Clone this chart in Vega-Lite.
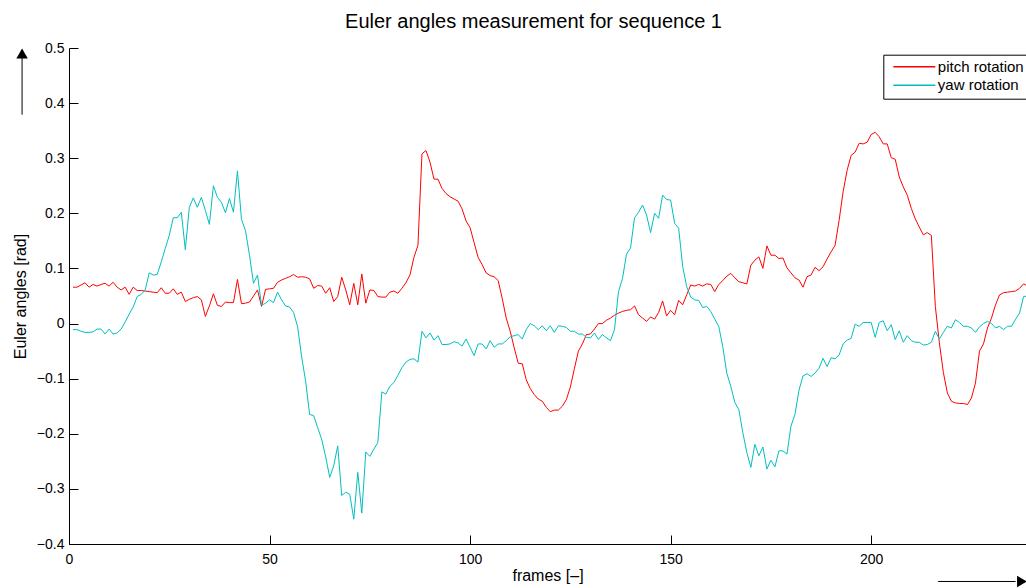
{
"$schema":"https://vega.github.io/schema/vega-lite/v6.json",
"width":957,"height":496,
"autosize":{"type":"none"},
"padding":{"left":69,"top":48,"right":0,"bottom":44},
"background":"white",
"title":{"text":"Euler angles measurement for sequence 1","fontSize":20,"fontWeight":"normal","font":"Liberation Sans","color":"black","frame":"group","anchor":"middle","offset":-7,"dx":-14,"baseline":"alphabetic"},
"config":{"font":"Liberation Sans","view":{"stroke":null},
"axis":{"domainColor":"black","tickColor":"black","tickSize":-9,"domainWidth":1,"tickWidth":1,"grid":false,"labelFlush":false,"labelFontSize":14,"labelColor":"black","labelFont":"Liberation Sans","titleFont":"Liberation Sans","titleFontSize":16,"titleFontWeight":"normal","titleColor":"black"}},
"datasets":{"euler":[
{"frame":1,"pitch":0.066,"yaw":-0.011},{"frame":2,"pitch":0.066,"yaw":-0.011},{"frame":3,"pitch":0.070,"yaw":-0.014},{"frame":4,"pitch":0.074,"yaw":-0.016},{"frame":5,"pitch":0.066,"yaw":-0.016},{"frame":6,"pitch":0.071,"yaw":-0.015},{"frame":7,"pitch":0.068,"yaw":-0.010},{"frame":8,"pitch":0.071,"yaw":-0.010},{"frame":9,"pitch":0.073,"yaw":-0.019},{"frame":10,"pitch":0.068,"yaw":-0.010},
{"frame":11,"pitch":0.075,"yaw":-0.019},{"frame":12,"pitch":0.066,"yaw":-0.017},{"frame":13,"pitch":0.061,"yaw":-0.010},{"frame":14,"pitch":0.066,"yaw":0.003},{"frame":15,"pitch":0.053,"yaw":0.017},{"frame":16,"pitch":0.066,"yaw":0.030},{"frame":17,"pitch":0.060,"yaw":0.049},{"frame":18,"pitch":0.060,"yaw":0.053},{"frame":19,"pitch":0.059,"yaw":0.061},{"frame":20,"pitch":0.058,"yaw":0.092},
{"frame":21,"pitch":0.057,"yaw":0.088},{"frame":22,"pitch":0.056,"yaw":0.089},{"frame":23,"pitch":0.065,"yaw":0.112},{"frame":24,"pitch":0.055,"yaw":0.136},{"frame":25,"pitch":0.055,"yaw":0.160},{"frame":26,"pitch":0.063,"yaw":0.192},{"frame":27,"pitch":0.053,"yaw":0.192},{"frame":28,"pitch":0.057,"yaw":0.202},{"frame":29,"pitch":0.040,"yaw":0.134},{"frame":30,"pitch":0.044,"yaw":0.211},
{"frame":31,"pitch":0.047,"yaw":0.228},{"frame":32,"pitch":0.049,"yaw":0.211},{"frame":33,"pitch":0.043,"yaw":0.229},{"frame":34,"pitch":0.013,"yaw":0.205},{"frame":35,"pitch":0.032,"yaw":0.180},{"frame":36,"pitch":0.054,"yaw":0.250},{"frame":37,"pitch":0.033,"yaw":0.229},{"frame":38,"pitch":0.031,"yaw":0.220},{"frame":39,"pitch":0.039,"yaw":0.201},{"frame":40,"pitch":0.038,"yaw":0.227},
{"frame":41,"pitch":0.038,"yaw":0.202},{"frame":42,"pitch":0.080,"yaw":0.277},{"frame":43,"pitch":0.036,"yaw":0.189},{"frame":44,"pitch":0.037,"yaw":0.169},{"frame":45,"pitch":0.039,"yaw":0.124},{"frame":46,"pitch":0.050,"yaw":0.073},{"frame":47,"pitch":0.061,"yaw":0.088},{"frame":48,"pitch":0.031,"yaw":0.033},{"frame":49,"pitch":0.062,"yaw":0.037},{"frame":50,"pitch":0.063,"yaw":0.043},
{"frame":51,"pitch":0.064,"yaw":0.038},{"frame":52,"pitch":0.075,"yaw":0.057},{"frame":53,"pitch":0.079,"yaw":0.043},{"frame":54,"pitch":0.082,"yaw":0.032},{"frame":55,"pitch":0.085,"yaw":0.030},{"frame":56,"pitch":0.089,"yaw":0.020},{"frame":57,"pitch":0.084,"yaw":-0.006},{"frame":58,"pitch":0.085,"yaw":-0.060},{"frame":59,"pitch":0.084,"yaw":-0.105},{"frame":60,"pitch":0.081,"yaw":-0.165},
{"frame":61,"pitch":0.064,"yaw":-0.167},{"frame":62,"pitch":0.069,"yaw":-0.189},{"frame":63,"pitch":0.068,"yaw":-0.210},{"frame":64,"pitch":0.055,"yaw":-0.242},{"frame":65,"pitch":0.065,"yaw":-0.279},{"frame":66,"pitch":0.040,"yaw":-0.258},{"frame":67,"pitch":0.049,"yaw":-0.222},{"frame":68,"pitch":0.084,"yaw":-0.312},{"frame":69,"pitch":0.061,"yaw":-0.306},{"frame":70,"pitch":0.034,"yaw":-0.310},
{"frame":71,"pitch":0.073,"yaw":-0.355},{"frame":72,"pitch":0.034,"yaw":-0.270},{"frame":73,"pitch":0.090,"yaw":-0.344},{"frame":74,"pitch":0.037,"yaw":-0.233},{"frame":75,"pitch":0.061,"yaw":-0.241},{"frame":76,"pitch":0.060,"yaw":-0.228},{"frame":77,"pitch":0.049,"yaw":-0.216},{"frame":78,"pitch":0.048,"yaw":-0.124},{"frame":79,"pitch":0.048,"yaw":-0.128},{"frame":80,"pitch":0.057,"yaw":-0.114},
{"frame":81,"pitch":0.059,"yaw":-0.107},{"frame":82,"pitch":0.055,"yaw":-0.094},{"frame":83,"pitch":0.064,"yaw":-0.080},{"frame":84,"pitch":0.074,"yaw":-0.070},{"frame":85,"pitch":0.088,"yaw":-0.065},{"frame":86,"pitch":0.120,"yaw":-0.064},{"frame":87,"pitch":0.142,"yaw":-0.070},{"frame":88,"pitch":0.308,"yaw":-0.014},{"frame":89,"pitch":0.314,"yaw":-0.026},{"frame":90,"pitch":0.293,"yaw":-0.017},
{"frame":91,"pitch":0.262,"yaw":-0.030},{"frame":92,"pitch":0.262,"yaw":-0.022},{"frame":93,"pitch":0.245,"yaw":-0.038},{"frame":94,"pitch":0.236,"yaw":-0.038},{"frame":95,"pitch":0.230,"yaw":-0.037},{"frame":96,"pitch":0.226,"yaw":-0.033},{"frame":97,"pitch":0.222,"yaw":-0.035},{"frame":98,"pitch":0.208,"yaw":-0.041},{"frame":99,"pitch":0.186,"yaw":-0.028},{"frame":100,"pitch":0.174,"yaw":-0.043},
{"frame":101,"pitch":0.147,"yaw":-0.058},{"frame":102,"pitch":0.120,"yaw":-0.037},{"frame":103,"pitch":0.107,"yaw":-0.037},{"frame":104,"pitch":0.092,"yaw":-0.046},{"frame":105,"pitch":0.087,"yaw":-0.031},{"frame":106,"pitch":0.085,"yaw":-0.043},{"frame":107,"pitch":0.078,"yaw":-0.037},{"frame":108,"pitch":0.046,"yaw":-0.037},{"frame":109,"pitch":0.010,"yaw":-0.031},{"frame":110,"pitch":-0.014,"yaw":-0.024},
{"frame":111,"pitch":-0.044,"yaw":-0.022},{"frame":112,"pitch":-0.072,"yaw":-0.020},{"frame":113,"pitch":-0.073,"yaw":-0.028},{"frame":114,"pitch":-0.102,"yaw":-0.011},{"frame":115,"pitch":-0.118,"yaw":0.000},{"frame":116,"pitch":-0.129,"yaw":-0.004},{"frame":117,"pitch":-0.137,"yaw":-0.011},{"frame":118,"pitch":-0.141,"yaw":-0.004},{"frame":119,"pitch":-0.152,"yaw":-0.013},{"frame":120,"pitch":-0.160,"yaw":-0.004},
{"frame":121,"pitch":-0.157,"yaw":-0.016},{"frame":122,"pitch":-0.157,"yaw":-0.004},{"frame":123,"pitch":-0.150,"yaw":-0.005},{"frame":124,"pitch":-0.138,"yaw":-0.007},{"frame":125,"pitch":-0.115,"yaw":-0.014},{"frame":126,"pitch":-0.082,"yaw":-0.014},{"frame":127,"pitch":-0.050,"yaw":-0.019},{"frame":128,"pitch":-0.037,"yaw":-0.019},{"frame":129,"pitch":-0.020,"yaw":-0.025},{"frame":130,"pitch":-0.019,"yaw":-0.026},
{"frame":131,"pitch":-0.010,"yaw":-0.017},{"frame":132,"pitch":0.000,"yaw":-0.029},{"frame":133,"pitch":0.000,"yaw":-0.020},{"frame":134,"pitch":0.006,"yaw":-0.026},{"frame":135,"pitch":0.010,"yaw":-0.031},{"frame":136,"pitch":0.015,"yaw":-0.011},{"frame":137,"pitch":0.019,"yaw":0.058},{"frame":138,"pitch":0.022,"yaw":0.082},{"frame":139,"pitch":0.024,"yaw":0.126},{"frame":140,"pitch":0.025,"yaw":0.137},
{"frame":141,"pitch":0.032,"yaw":0.192},{"frame":142,"pitch":0.016,"yaw":0.202},{"frame":143,"pitch":0.010,"yaw":0.215},{"frame":144,"pitch":0.004,"yaw":0.197},{"frame":145,"pitch":0.012,"yaw":0.165},{"frame":146,"pitch":0.008,"yaw":0.200},{"frame":147,"pitch":0.020,"yaw":0.191},{"frame":148,"pitch":0.041,"yaw":0.233},{"frame":149,"pitch":0.014,"yaw":0.225},{"frame":150,"pitch":0.024,"yaw":0.224},
{"frame":151,"pitch":0.016,"yaw":0.182},{"frame":152,"pitch":0.042,"yaw":0.173},{"frame":153,"pitch":0.034,"yaw":0.104},{"frame":154,"pitch":0.052,"yaw":0.067},{"frame":155,"pitch":0.070,"yaw":0.048},{"frame":156,"pitch":0.068,"yaw":0.043},{"frame":157,"pitch":0.071,"yaw":0.042},{"frame":158,"pitch":0.068,"yaw":0.029},{"frame":159,"pitch":0.072,"yaw":0.031},{"frame":160,"pitch":0.071,"yaw":0.022},
{"frame":161,"pitch":0.058,"yaw":0.008},{"frame":162,"pitch":0.071,"yaw":-0.005},{"frame":163,"pitch":0.078,"yaw":-0.042},{"frame":164,"pitch":0.086,"yaw":-0.090},{"frame":165,"pitch":0.091,"yaw":-0.114},{"frame":166,"pitch":0.083,"yaw":-0.143},{"frame":167,"pitch":0.076,"yaw":-0.156},{"frame":168,"pitch":0.074,"yaw":-0.198},{"frame":169,"pitch":0.072,"yaw":-0.234},{"frame":170,"pitch":0.106,"yaw":-0.261},
{"frame":171,"pitch":0.115,"yaw":-0.219},{"frame":172,"pitch":0.121,"yaw":-0.240},{"frame":173,"pitch":0.100,"yaw":-0.224},{"frame":174,"pitch":0.141,"yaw":-0.264},{"frame":175,"pitch":0.124,"yaw":-0.248},{"frame":176,"pitch":0.124,"yaw":-0.260},{"frame":177,"pitch":0.118,"yaw":-0.231},{"frame":178,"pitch":0.119,"yaw":-0.231},{"frame":179,"pitch":0.101,"yaw":-0.237},{"frame":180,"pitch":0.092,"yaw":-0.186},
{"frame":181,"pitch":0.083,"yaw":-0.165},{"frame":182,"pitch":0.079,"yaw":-0.121},{"frame":183,"pitch":0.066,"yaw":-0.095},{"frame":184,"pitch":0.085,"yaw":-0.091},{"frame":185,"pitch":0.088,"yaw":-0.096},{"frame":186,"pitch":0.102,"yaw":-0.090},{"frame":187,"pitch":0.096,"yaw":-0.081},{"frame":188,"pitch":0.103,"yaw":-0.063},{"frame":189,"pitch":0.117,"yaw":-0.078},{"frame":190,"pitch":0.130,"yaw":-0.062},
{"frame":191,"pitch":0.142,"yaw":-0.064},{"frame":192,"pitch":0.187,"yaw":-0.057},{"frame":193,"pitch":0.239,"yaw":-0.037},{"frame":194,"pitch":0.278,"yaw":-0.030},{"frame":195,"pitch":0.305,"yaw":-0.027},{"frame":196,"pitch":0.311,"yaw":-0.001},{"frame":197,"pitch":0.327,"yaw":-0.005},{"frame":198,"pitch":0.326,"yaw":0.002},{"frame":199,"pitch":0.329,"yaw":0.002},{"frame":200,"pitch":0.343,"yaw":0.002},
{"frame":201,"pitch":0.347,"yaw":-0.025},{"frame":202,"pitch":0.339,"yaw":0.002},{"frame":203,"pitch":0.326,"yaw":0.005},{"frame":204,"pitch":0.326,"yaw":-0.013},{"frame":205,"pitch":0.301,"yaw":-0.002},{"frame":206,"pitch":0.298,"yaw":-0.029},{"frame":207,"pitch":0.266,"yaw":-0.013},{"frame":208,"pitch":0.248,"yaw":-0.034},{"frame":209,"pitch":0.233,"yaw":-0.022},{"frame":210,"pitch":0.209,"yaw":-0.031},
{"frame":211,"pitch":0.190,"yaw":-0.034},{"frame":212,"pitch":0.175,"yaw":-0.034},{"frame":213,"pitch":0.161,"yaw":-0.039},{"frame":214,"pitch":0.165,"yaw":-0.038},{"frame":215,"pitch":0.160,"yaw":-0.034},{"frame":216,"pitch":0.031,"yaw":-0.014},{"frame":217,"pitch":-0.035,"yaw":-0.028},{"frame":218,"pitch":-0.089,"yaw":-0.016},{"frame":219,"pitch":-0.126,"yaw":-0.005},{"frame":220,"pitch":-0.141,"yaw":-0.008},
{"frame":221,"pitch":-0.144,"yaw":0.007},{"frame":222,"pitch":-0.145,"yaw":0.002},{"frame":223,"pitch":-0.145,"yaw":-0.005},{"frame":224,"pitch":-0.147,"yaw":-0.005},{"frame":225,"pitch":-0.135,"yaw":-0.008},{"frame":226,"pitch":-0.108,"yaw":-0.016},{"frame":227,"pitch":-0.050,"yaw":-0.006},{"frame":228,"pitch":-0.037,"yaw":0.000},{"frame":229,"pitch":-0.008,"yaw":0.004},{"frame":230,"pitch":0.010,"yaw":0.000},
{"frame":231,"pitch":0.034,"yaw":-0.008},{"frame":232,"pitch":0.052,"yaw":-0.005},{"frame":233,"pitch":0.056,"yaw":-0.011},{"frame":234,"pitch":0.057,"yaw":-0.005},{"frame":235,"pitch":0.058,"yaw":-0.005},{"frame":236,"pitch":0.059,"yaw":0.008},{"frame":237,"pitch":0.064,"yaw":0.019},{"frame":238,"pitch":0.072,"yaw":0.049},{"frame":239,"pitch":0.068,"yaw":0.050}
]},
"layer":[
{"data":{"name":"euler"},
"transform":[{"fold":["pitch","yaw"],"as":["series","value"]}],
"mark":{"type":"line","strokeWidth":1,"clip":true},
"encoding":{
"x":{"field":"frame","type":"quantitative","scale":{"domain":[0,238.6],"nice":false,"zero":false},"axis":{"values":[0,50,100,150,200],"title":"frames [–]","labelPadding":17,"titlePadding":1}},
"y":{"field":"value","type":"quantitative","scale":{"domain":[-0.4,0.5],"nice":false,"zero":false},"axis":{"values":[-0.4,-0.3,-0.2,-0.1,0,0.1,0.2,0.3,0.4,0.5],"labelExpr":"datum.value == 0 ? '0' : format(datum.value, '.1f')","title":"Euler angles [rad]","labelPadding":14,"titlePadding":8}},
"color":{"field":"series","type":"nominal","scale":{"domain":["pitch","yaw"],"range":["#ff0000","#00bfbf"]},
"legend":{"title":null,"orient":"none","legendX":814.3,"legendY":6.7,"symbolType":"stroke","symbolSize":1764,"symbolStrokeWidth":1.5,"clipHeight":15,"rowPadding":2.6,"padding":4.5,"symbolOffset":4.5,"labelOffset":1.5,"labelFontSize":15,"labelColor":"black","labelFont":"Liberation Sans","strokeColor":"black","fillColor":"white","labelExpr":"datum.label + ' rotation'","labelLimit":300}}
}},
{"data":{"values":[{}]},"mark":{"type":"rule","color":"black","strokeWidth":1,"clip":false},"encoding":{"x":{"datum":-11.7},"y":{"datum":0.379},"y2":{"datum":0.49}}},
{"data":{"values":[{}]},"mark":{"type":"point","shape":"triangle-up","filled":true,"color":"black","opacity":1,"size":130,"clip":false},"encoding":{"x":{"datum":-11.7},"y":{"datum":0.49}}},
{"data":{"values":[{}]},"mark":{"type":"rule","color":"black","strokeWidth":1,"clip":false},"encoding":{"x":{"datum":216.7},"x2":{"datum":236},"y":{"datum":-0.468}}},
{"data":{"values":[{}]},"mark":{"type":"point","shape":"triangle-right","filled":true,"color":"black","opacity":1,"size":130,"clip":false},"encoding":{"x":{"datum":237.6},"y":{"datum":-0.468}}}
]
}
